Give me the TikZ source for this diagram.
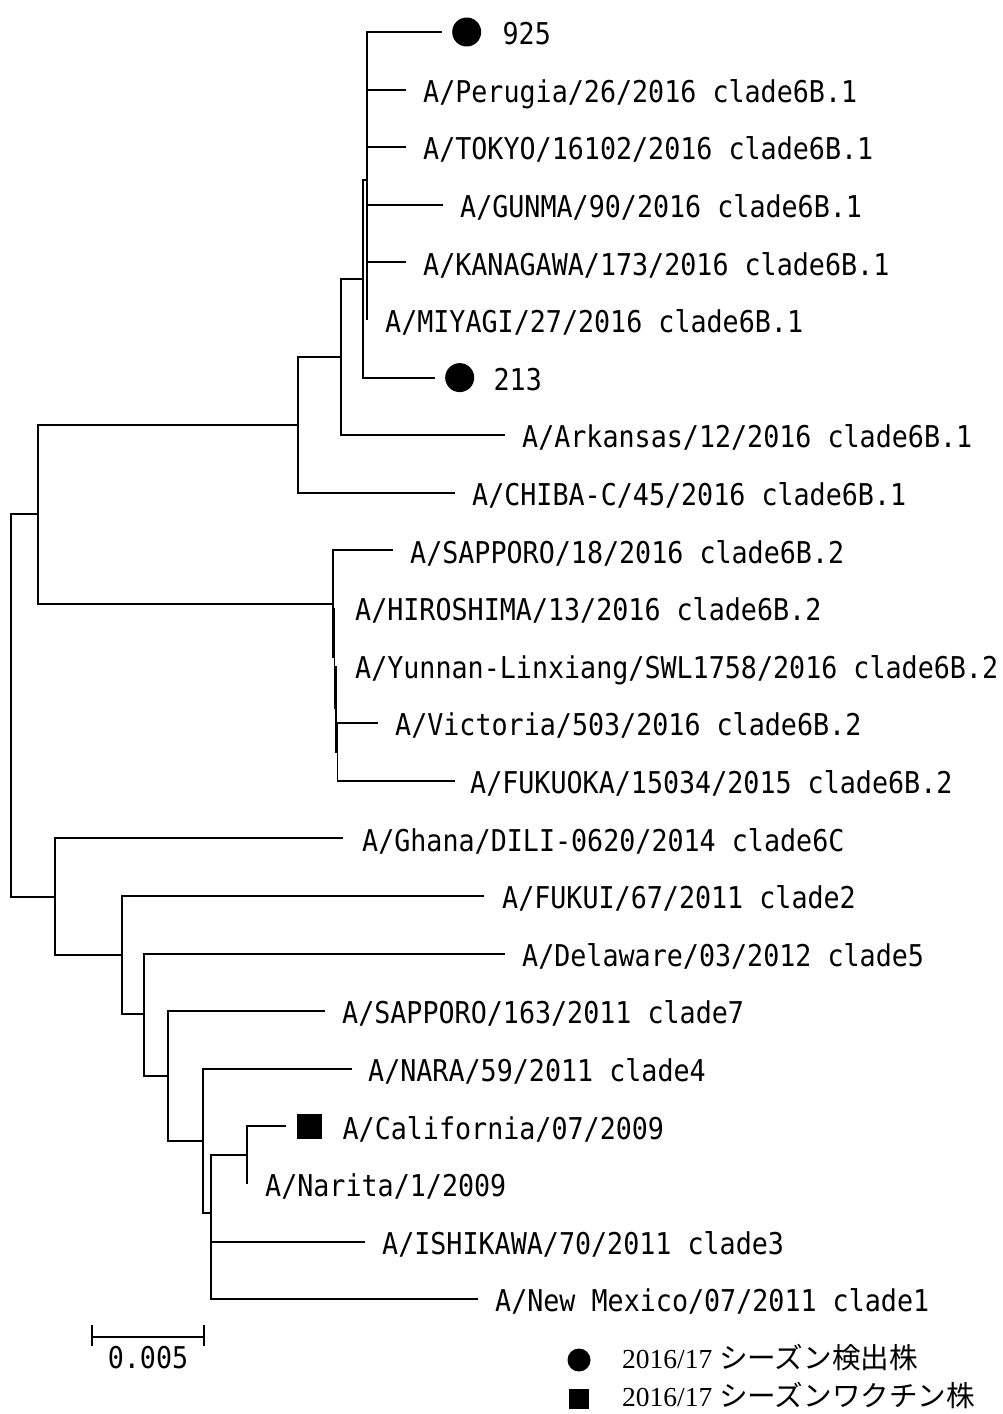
\documentclass[tikz,border=0pt]{standalone}
\usepackage{fontspec}
\usepackage{tikz}
\usetikzlibrary{positioning}
\newfontfamily\treefont[FakeStretch=0.89]{DejaVu Sans Mono}
\newfontfamily\legendfont{Liberation Serif}
\newfontfamily\jpfont[Scale=1.04]{Noto Sans CJK JP}

\begin{document}
\begin{tikzpicture}[
    x=1pt, y=-1pt,
    branch/.style={line width=1.9pt, line join=miter},
    leaf/.style={inner sep=0pt, text height=25.4pt, text depth=0pt, font={\treefont\fontsize{30}{32}\selectfont}},
    dot/.style={circle, fill=black, inner sep=0pt, minimum size=29pt},
    sq/.style={rectangle, fill=black, inner sep=0pt, minimum size=25pt},
    legtext/.style={anchor=base west, inner sep=0pt, font=\fontsize{27.5}{30}\selectfont}
]
\useasboundingbox (0,0) rectangle (1003,1414);

% inner nodes
\coordinate (root) at (11,705);
\coordinate (up) at (38,514);
\coordinate (u4) at (298,425);
\coordinate (u3) at (341,357);
\coordinate (u2) at (363,279);
\coordinate (u1) at (367,180);
\coordinate (b1) at (333,604);
\coordinate (b2) at (334.5,657);
\coordinate (b3) at (336,708);
\coordinate (b4) at (337.5,752);
\coordinate (low) at (55,897);
\coordinate (c1) at (122,955);
\coordinate (c2) at (144,1014);
\coordinate (c3) at (168,1076);
\coordinate (c4) at (203,1141);
\coordinate (c5) at (211,1213);
\coordinate (c6) at (247,1155.2);

% branch tips
\coordinate (t1) at (442,32);
\coordinate (t2) at (406,89.6);
\coordinate (t3) at (406,147.2);
\coordinate (t4) at (443,204.8);
\coordinate (t5) at (406,262.4);
\coordinate (t6) at (367,320);
\coordinate (t7) at (435,377.6);
\coordinate (t8) at (505,435.2);
\coordinate (t9) at (455,492.8);
\coordinate (t10) at (393,550.4);
\coordinate (t11) at (334.5,608);
\coordinate (t12) at (336,665.6);
\coordinate (t13) at (378,723.2);
\coordinate (t14) at (455,780.8);
\coordinate (t15) at (343,838.4);
\coordinate (t16) at (484,896);
\coordinate (t17) at (505,953.6);
\coordinate (t18) at (325,1011.2);
\coordinate (t19) at (352,1068.8);
\coordinate (t20) at (286,1126.4);
\coordinate (t21) at (247,1184);
\coordinate (t22) at (365,1241.6);
\coordinate (t23) at (478,1299.2);

% markers and labels
\node[dot, right=10pt of t1] (m1) {};
\node[leaf, right=21pt of m1] (l1) {925};
\node[leaf, right=17pt of t2] (l2) {A/Perugia/26/2016 clade6B.1};
\node[leaf, right=17pt of t3] (l3) {A/TOKYO/16102/2016 clade6B.1};
\node[leaf, right=17pt of t4] (l4) {A/GUNMA/90/2016 clade6B.1};
\node[leaf, right=17pt of t5] (l5) {A/KANAGAWA/173/2016 clade6B.1};
\node[leaf, right=18pt of t6] (l6) {A/MIYAGI/27/2016 clade6B.1};
\node[dot, right=10pt of t7] (m7) {};
\node[leaf, right=19pt of m7] (l7) {213};
\node[leaf, right=17pt of t8] (l8) {A/Arkansas/12/2016 clade6B.1};
\node[leaf, right=17pt of t9] (l9) {A/CHIBA-C/45/2016 clade6B.1};
\node[leaf, right=17pt of t10] (l10) {A/SAPPORO/18/2016 clade6B.2};
\node[leaf, right=20.5pt of t11] (l11) {A/HIROSHIMA/13/2016 clade6B.2};
\node[leaf, right=19pt of t12] (l12) {A/Yunnan-Linxiang/SWL1758/2016 clade6B.2};
\node[leaf, right=17pt of t13] (l13) {A/Victoria/503/2016 clade6B.2};
\node[leaf, right=15pt of t14] (l14) {A/FUKUOKA/15034/2015 clade6B.2};
\node[leaf, right=19pt of t15] (l15) {A/Ghana/DILI-0620/2014 clade6C};
\node[leaf, right=18pt of t16] (l16) {A/FUKUI/67/2011 clade2};
\node[leaf, right=17pt of t17] (l17) {A/Delaware/03/2012 clade5};
\node[leaf, right=17pt of t18] (l18) {A/SAPPORO/163/2011 clade7};
\node[leaf, right=16pt of t19] (l19) {A/NARA/59/2011 clade4};
\node[sq, right=11pt of t20] (m20) {};
\node[leaf, right=20pt of m20] (l20) {A/California/07/2009};
\node[leaf, right=18pt of t21] (l21) {A/Narita/1/2009};
\node[leaf, right=17pt of t22] (l22) {A/ISHIKAWA/70/2011 clade3};
\node[leaf, right=17pt of t23] (l23) {A/New Mexico/07/2011 clade1};

% tree
\draw[branch] (root) |- (up);
\draw[branch] (root) |- (low);
\draw[branch] (up) |- (u4);
\draw[branch] (up) |- (b1);
\draw[branch] (u4) |- (u3);
\draw[branch] (u4) |- (t9);
\draw[branch] (u3) |- (u2);
\draw[branch] (u3) |- (t8);
\draw[branch] (u2) |- (u1);
\draw[branch] (u2) |- (t7);
\draw[branch] (u1) |- (t1);
\draw[branch] (u1) |- (t2);
\draw[branch] (u1) |- (t3);
\draw[branch] (u1) |- (t4);
\draw[branch] (u1) |- (t5);
\draw[branch] (u1) |- (t6);
\draw[branch] (b1) |- (t10);
\draw[branch] (b1) |- (b2);
\draw[branch] (b2) |- (t11);
\draw[branch] (b2) |- (b3);
\draw[branch] (b3) |- (t12);
\draw[branch] (b3) |- (b4);
\draw[branch] (b4) |- (t13);
\draw[branch] (b4) |- (t14);
\draw[branch] (low) |- (t15);
\draw[branch] (low) |- (c1);
\draw[branch] (c1) |- (t16);
\draw[branch] (c1) |- (c2);
\draw[branch] (c2) |- (t17);
\draw[branch] (c2) |- (c3);
\draw[branch] (c3) |- (t18);
\draw[branch] (c3) |- (c4);
\draw[branch] (c4) |- (t19);
\draw[branch] (c4) |- (c5);
\draw[branch] (c5) |- (c6);
\draw[branch] (c5) |- (t22);
\draw[branch] (c5) |- (t23);
\draw[branch] (c6) |- (t20);
\draw[branch] (c6) |- (t21);

% scale bar
\coordinate (sb1) at (92,1337);
\coordinate (sb2) at (204,1337);
\draw[branch] (sb1) -- (sb2);
\draw[branch] ([yshift=12pt]sb1) -- ([yshift=-9pt]sb1);
\draw[branch] ([yshift=12pt]sb2) -- ([yshift=-9pt]sb2);
\node[leaf, anchor=base] (sblabel) at (148,1368) {0.005};

% legend
\node[circle, fill=black, inner sep=0pt, minimum size=23pt] (key1) at (579,1360) {};
\node[rectangle, fill=black, inner sep=0pt, minimum size=20pt] (key2) at (579,1399) {};
\node[legtext] (key1text) at (622,1368) {\legendfont 2016/17 \jpfont シーズン検出株};
\node[legtext] (key2text) at (622,1406) {\legendfont 2016/17 \jpfont シーズンワクチン株};
\end{tikzpicture}
\end{document}
